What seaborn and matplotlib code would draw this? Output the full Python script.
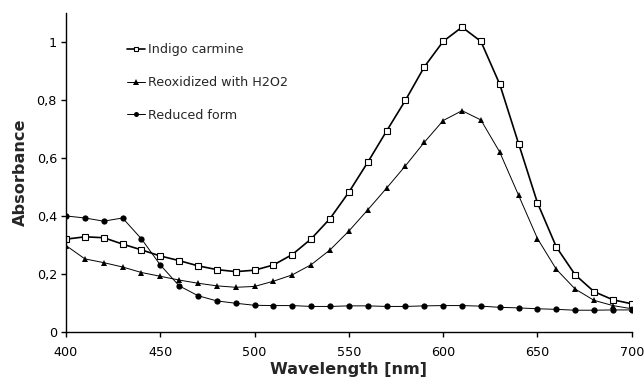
import numpy as np
import pandas as pd
import matplotlib
matplotlib.use("Agg")
import matplotlib.pyplot as plt
from matplotlib.ticker import FuncFormatter
import seaborn as sns

# wavelengths every 10 nm
wavelength = list(range(400, 701, 10))

indigo_carmine = [0.319, 0.327, 0.324, 0.302, 0.282, 0.261, 0.245, 0.227, 0.214, 0.207,
                  0.212, 0.230, 0.266, 0.320, 0.390, 0.481, 0.584, 0.692, 0.798, 0.913,
                  1.001, 1.050, 1.001, 0.853, 0.648, 0.444, 0.292, 0.196, 0.138, 0.110,
                  0.096]
reoxidized = [0.297, 0.251, 0.238, 0.223, 0.204, 0.191, 0.178, 0.167, 0.158, 0.153,
              0.156, 0.174, 0.196, 0.231, 0.282, 0.347, 0.420, 0.495, 0.572, 0.653,
              0.728, 0.762, 0.730, 0.619, 0.470, 0.321, 0.215, 0.147, 0.108, 0.090,
              0.079]
reduced = [0.399, 0.392, 0.381, 0.392, 0.320, 0.230, 0.158, 0.124, 0.106, 0.098,
           0.091, 0.090, 0.090, 0.087, 0.087, 0.089, 0.089, 0.087, 0.087, 0.089,
           0.090, 0.090, 0.088, 0.084, 0.082, 0.079, 0.077, 0.074, 0.074, 0.075,
           0.075]

series_names = ["Indigo carmine", "Reoxidized with H2O2", "Reduced form"]

df = pd.DataFrame({"Wavelength": wavelength,
                   series_names[0]: indigo_carmine,
                   series_names[1]: reoxidized,
                   series_names[2]: reduced})

sns.set_style("ticks")
plt.rcParams["font.family"] = ["DejaVu Sans"]

fig = plt.figure(figsize=(6.44, 3.83), dpi=100)
ax = fig.add_axes([0.1025, 0.134, 0.8785, 0.833])

# Indigo carmine: open squares, thicker line
sns.lineplot(data=df, x="Wavelength", y=series_names[0], ax=ax, color="black",
             linewidth=1.2, marker="s", markersize=4.2, markerfacecolor="white",
             markeredgecolor="black", markeredgewidth=0.8, label=series_names[0])
# Reoxidized: filled triangles
sns.lineplot(data=df, x="Wavelength", y=series_names[1], ax=ax, color="black",
             linewidth=0.7, marker="^", markersize=5, markeredgewidth=0,
             label=series_names[1])
# Reduced: filled circles
sns.lineplot(data=df, x="Wavelength", y=series_names[2], ax=ax, color="black",
             linewidth=0.7, marker="o", markersize=4.5, markeredgewidth=0,
             label=series_names[2])

ax.set_xlim(400, 700)
ax.set_ylim(0, 1.1)
ax.set_xticks([400, 450, 500, 550, 600, 650, 700])
ax.set_yticks([0, 0.2, 0.4, 0.6, 0.8, 1.0])
ax.yaxis.set_major_formatter(FuncFormatter(lambda v, p: ("%g" % round(v, 2)).replace(".", ",")))
ax.tick_params(direction="out", length=3.5, width=1, labelsize=9.2, colors="black")
ax.tick_params(axis="x", pad=7)
ax.tick_params(axis="y", pad=3)
for s in ["left", "bottom"]:
    ax.spines[s].set_linewidth(1)
    ax.spines[s].set_color("black")
sns.despine(ax=ax)

ax.set_xlabel("Wavelength [nm]", fontsize=11.6, fontweight="bold", labelpad=2)
ax.set_ylabel("Absorbance", fontsize=11.6, fontweight="bold", labelpad=6)

leg = ax.legend(loc="upper left", bbox_to_anchor=(0.087, 0.94), frameon=False,
                fontsize=9.2, handlelength=1.4, handletextpad=0.25, labelspacing=1.55,
                markerscale=0.8)

fig.savefig("out.png", dpi=100)
